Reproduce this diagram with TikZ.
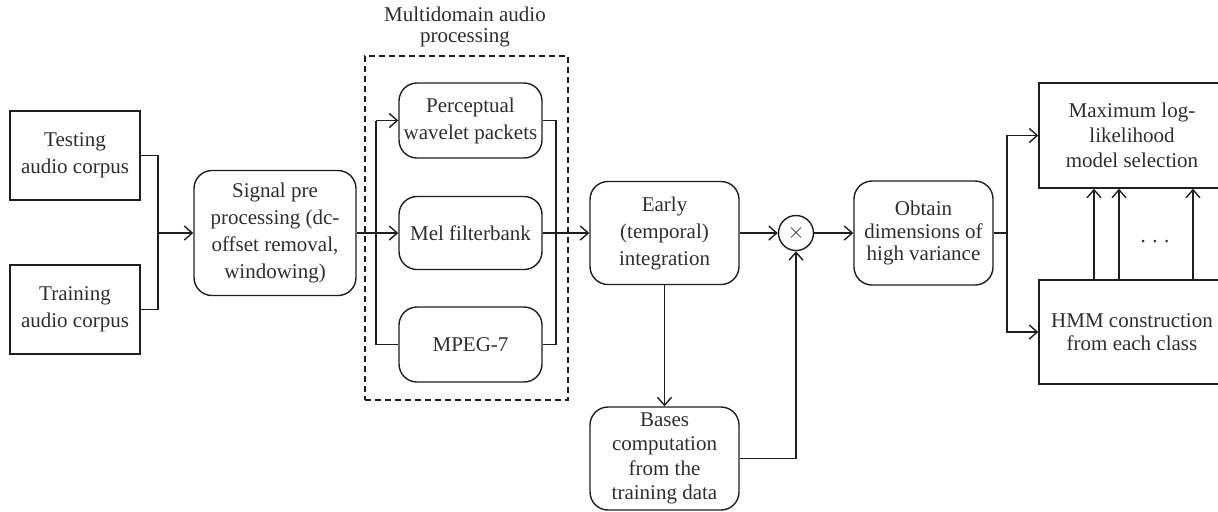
\documentclass[tikz,border=0pt]{standalone}
\usepackage{fontspec}
\setmainfont{Liberation Serif}
\usetikzlibrary{arrows.meta}
\definecolor{ink}{HTML}{1E1E1E}
\definecolor{txt}{HTML}{2E2E2E}
\begin{document}
\begin{tikzpicture}[x=0.5pt,y=-0.5pt,
  every node/.style={font=\fontsize{10.5}{13.5}\selectfont, text=txt, align=center, inner sep=0pt},
  line/.style={draw=ink, line width=0.7pt},
  arr/.style={line, -{Straight Barb[length=4pt,width=7pt,line width=0.7pt]}},
  sqbox/.style={draw=ink, line width=0.7pt, rectangle},
  rbox/.style={draw=ink, line width=0.7pt, rectangle, rounded corners=9pt},
]
\useasboundingbox (0,0) rectangle (1218,511);
\clip (0,0) rectangle (1218,511);

% left inputs
\node[sqbox, minimum width=65pt, minimum height=44.5pt] (test) at (75,155.5) {Testing\\audio corpus};
\node[sqbox, minimum width=65pt, minimum height=44.5pt] (train) at (75,309.5) {Training\\audio corpus};
\node[rbox, minimum width=81pt, minimum height=62.5pt] (signal) at (275,233) {Signal pre\\processing (dc-\\offset removal,\\windowing)};

% multidomain group
\node[draw=ink, line width=0.6pt, dash pattern=on 3pt off 2pt, rectangle, minimum width=101.5pt, minimum height=172pt] (group) at (466.5,228) {};
\node[font=\fontsize{10.5}{10.8}\selectfont] (title) at (465,27) {Multidomain audio\\processing};
\node[rbox, minimum width=71.5pt, minimum height=37.5pt] (perc) at (470.5,120.5) {Perceptual\\wavelet packets};
\node[rbox, minimum width=71.5pt, minimum height=36.5pt] (mel) at (470.5,233) {Mel filterbank};
\node[rbox, minimum width=71.5pt, minimum height=37.5pt] (mpeg) at (470.5,344.5) {MPEG-7};

% processing chain
\node[rbox, minimum width=74.5pt, minimum height=51.5pt] (early) at (664.5,233) {Early\\(temporal)\\integration};
\node[rbox, minimum width=74.5pt, minimum height=51.5pt, font=\fontsize{10.5}{12.2}\selectfont] (bases) at (664.5,458.5) {Bases\\computation\\from the\\training data};
\node[draw=ink, line width=0.7pt, circle, minimum size=17.5pt] (mult) at (796,233) {$\times$};
\node[rbox, minimum width=69.5pt, minimum height=52pt, font=\fontsize{10.5}{11.4}\selectfont] (obtain) at (923.5,233) {Obtain\\dimensions of\\high variance};

% right boxes
\node[sqbox, minimum width=93pt, minimum height=52.5pt, font=\fontsize{10.5}{12.5}\selectfont] (maxll) at (1132,135.5) {Maximum log-\\likelihood\\model selection};
\node[sqbox, minimum width=93pt, minimum height=52pt, font=\fontsize{10.5}{11.5}\selectfont] (hmm) at (1132,332) {HMM construction\\from each class};
\node[anchor=base] (dots) at (1155,242) {.\hspace{3.2pt}.\hspace{3.2pt}.};

% connectors: inputs
\coordinate (jn) at (158,233);
\draw[line] (test.east) -| (jn);
\draw[line] (train.east) -| (jn);
\draw[arr] (jn) -- (signal.west);

% left bus
\coordinate (lb) at (376,233);
\draw[line] (lb |- perc.west) -- (lb |- mpeg.west) -- (mpeg.west);
\draw[arr] (lb |- perc.west) -- (perc.west);
\draw[arr] (signal.east) -- (mel.west);

% right bus
\coordinate (rb) at (556,233);
\draw[line] (perc.east) -- (rb |- perc.east) -- (rb |- mpeg.east) -- (mpeg.east);
\draw[arr] (mel.east) -- (early.west);

% chain
\draw[arr] (early.east) -- (mult.west);
\draw[arr] (early.south) -- (bases.north);
\draw[arr] (bases.east) -| (mult.south);
\draw[arr] (mult.east) -- (obtain.west);

% output split
\coordinate (ob) at (1007,233);
\draw[line] (obtain.east) -- (ob);
\draw[arr] (ob) |- (maxll.west);
\draw[arr] (ob) |- (hmm.west);

\foreach \x [count=\i] in {1094,1119,1193} {
  \coordinate (v\i) at (\x,0);
  \draw[arr] (hmm.north -| v\i) -- (maxll.south -| v\i);
}
\end{tikzpicture}
\end{document}
